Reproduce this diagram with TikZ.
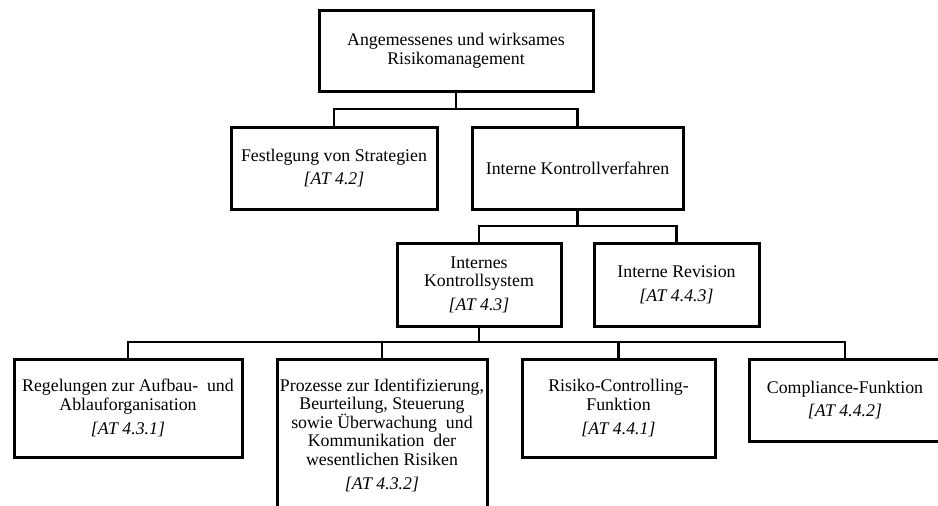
\documentclass[tikz,border=0pt]{standalone}
\usepackage{fontspec}
\setmainfont{Liberation Serif}
\tikzset{
  kasten/.style={draw=black, line width=3pt, align=center, inner sep=0pt,
    font=\fontsize{17.8}{18.6}\selectfont},
  linie/.style={draw=black, line width=2.3pt}
}
\newcommand{\at}[1]{\\[5pt]\textit{[AT #1]}}
\begin{document}
\begin{tikzpicture}[x=1pt, y=-1pt]
                \clip (0,0) rectangle (938,506);
                \fill[white] (0,0) rectangle (938,506);
                \node[kasten, minimum width=274, minimum height=81] (top) at (456,50.5) {Angemessenes und wirksames\\Risikomanagement};
                \node[kasten, minimum width=206, minimum height=82] (fest) at (334,168) {Festlegung von Strategien\at{4.2}};
                \node[kasten, minimum width=211, minimum height=82] (ikv) at (577.5,168) {Interne Kontrollverfahren};
                \node[kasten, minimum width=164, minimum height=83] (iks) at (479,284.5) {Internes\\Kontrollsystem\at{4.3}};
                \node[kasten, minimum width=165, minimum height=83] (rev) at (676.5,284.5) {Interne Revision\at{4.4.3}};
                \node[kasten, minimum width=228, minimum height=98] (reg) at (128,408) {Regelungen zur Aufbau- \ und\\Ablauforganisation\at{4.3.1}};
                \node[kasten, minimum width=210, minimum height=152] (proz) at (382,435) {Prozesse zur Identifizierung,\\Beurteilung, Steuerung\\sowie Überwachung \ und\\Kommunikation \ der\\wesentlichen Risiken\at{4.3.2}};
                \node[kasten, minimum width=193, minimum height=98] (risk) at (618.5,408) {Risiko-Controlling-\\Funktion\at{4.4.1}};
                \node[kasten, minimum width=192, minimum height=82] (comp) at (845,400) {Compliance-Funktion\at{4.4.2}};

                \coordinate (bus1) at (456,109);
                \coordinate (bus2) at (577.5,226);
                \coordinate (bus3) at (479,342);
                \draw[linie] (top.south) -- (bus1);
                \draw[linie] (fest.north) |- (bus1) -| (ikv.north);
                \draw[linie] (ikv.south) -- (bus2);
                \draw[linie] (iks.north) |- (bus2) -| (rev.north);
                \draw[linie] (iks.south) -- (bus3);
                \draw[linie] (reg.north) |- (bus3) -| (comp.north);
                \draw[linie] (proz.north) -- (proz.north |- bus3);
                \draw[linie] (risk.north) -- (risk.north |- bus3);
\end{tikzpicture}
\end{document}
